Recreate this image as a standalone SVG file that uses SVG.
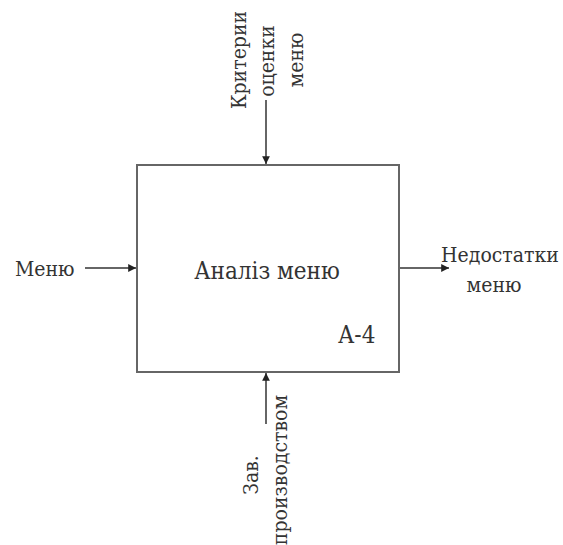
<svg xmlns="http://www.w3.org/2000/svg" width="563" height="545" viewBox="0 0 563 545">
<style>
.t{font-family:'DejaVu Serif',serif;font-stretch:condensed;font-size:21px;fill:#333}
.big{font-size:24px}
.box{fill:#fff;stroke:#666;stroke-width:2}
.ln{stroke:#666;stroke-width:2;fill:none;marker-end:url(#ah)}
</style>
<defs>
<marker id="ah" viewBox="0 0 10 10" refX="10" refY="5" markerWidth="6" markerHeight="6" orient="auto" markerUnits="userSpaceOnUse" overflow="visible">
<path d="M0,0 L10,5 L0,10 Z" fill="#222" transform="scale(1.3) translate(-2.3,-1.15)"/>
</marker>
</defs>
<rect width="563" height="545" fill="#fff"/>
<g id="connectors">
<line class="ln" x1="266" y1="100" x2="266" y2="164"/>
<line class="ln" x1="266" y1="424" x2="266" y2="373"/>
<line class="ln" x1="85" y1="268" x2="136" y2="268"/>
<line class="ln" x1="399" y1="268" x2="449" y2="268"/>
</g>
<g id="node-main">
<rect class="box" x="137" y="165" width="262" height="207"/>
<text class="t big" x="267" y="279" text-anchor="middle">Аналіз меню</text>
<text class="t big" x="338" y="343">А-4</text>
</g>
<g id="label-top">
<text class="t" transform="translate(246,60) rotate(-90)" text-anchor="middle">Критерии</text>
<text class="t" transform="translate(274,61) rotate(-90)" text-anchor="middle">оценки</text>
<text class="t" transform="translate(303,60) rotate(-90)" text-anchor="middle">меню</text>
</g>
<g id="label-left">
<text class="t" x="15" y="276">Меню</text>
</g>
<g id="label-right">
<text class="t" x="500" y="262" text-anchor="middle">Недостатки</text>
<text class="t" x="494" y="292" text-anchor="middle">меню</text>
</g>
<g id="label-bottom">
<text class="t" transform="translate(258,475) rotate(-90)" text-anchor="middle">Зав.</text>
<text class="t" transform="translate(287,470) rotate(-90)" text-anchor="middle">производством</text>
</g>
</svg>
